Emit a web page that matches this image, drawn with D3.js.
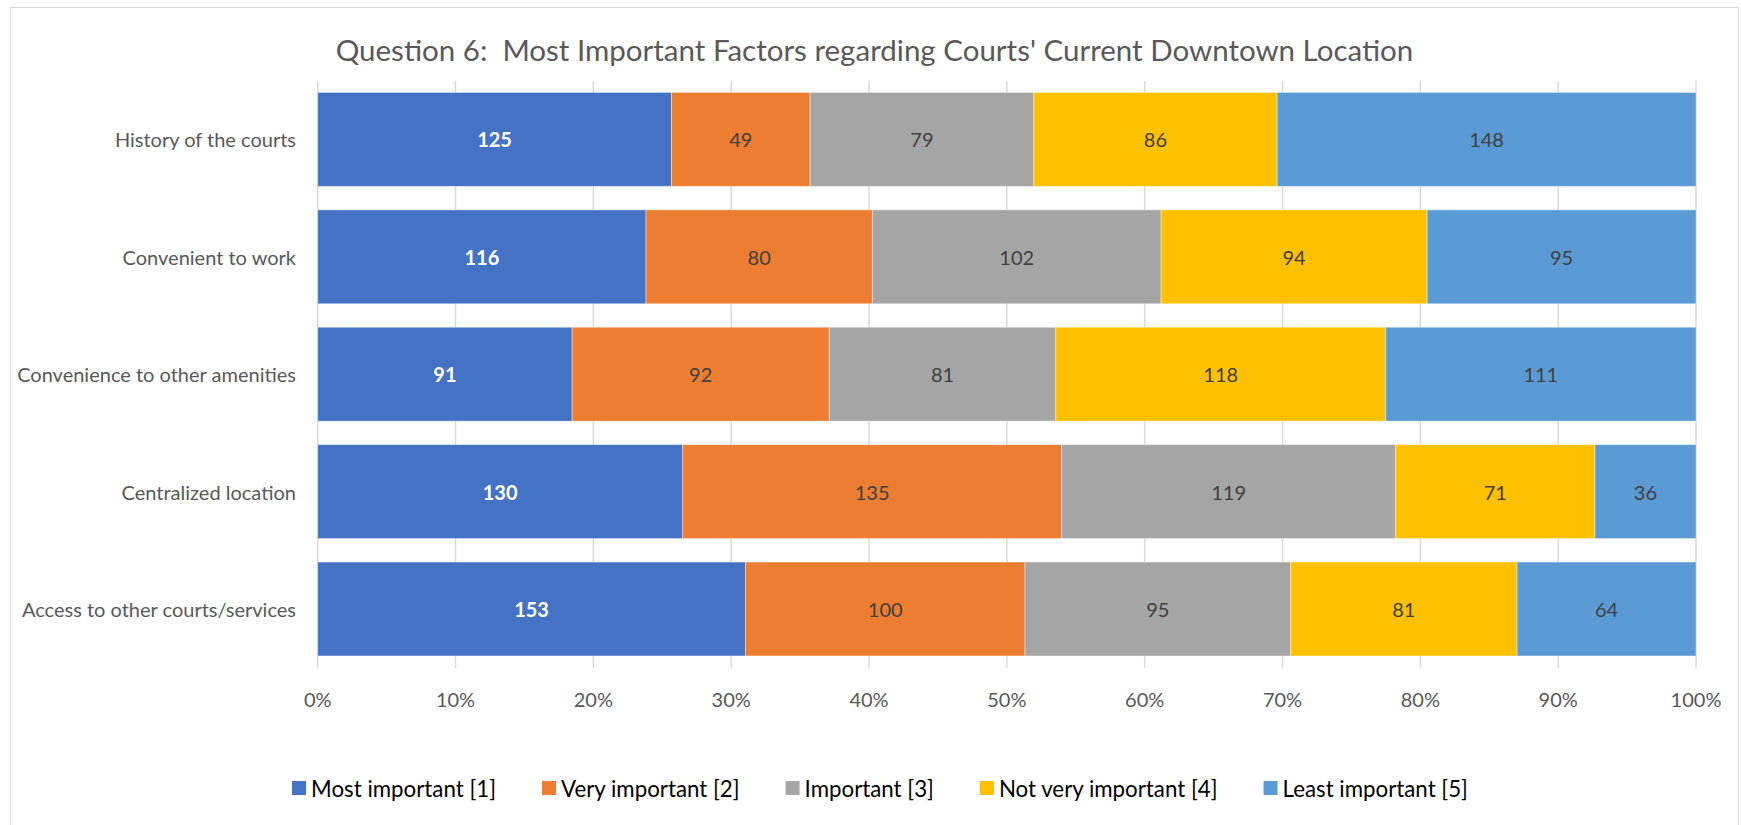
<!DOCTYPE html>
<html>
<head>
<meta charset="utf-8">
<script src="https://cdn.jsdelivr.net/npm/d3@7"></script>
<style>
  body { margin: 0; background: #fff; }
  svg { display: block; font-family: Lato, "Open Sans", sans-serif; }
</style>
</head>
<body>
<svg id="chart" width="1741" height="825"></svg>
<script>
const svg = d3.select('#chart');

const title = "Question 6:  Most Important Factors regarding Courts' Current Downtown Location";
const categories = ['History of the courts', 'Convenient to work', 'Convenience to other amenities', 'Centralized location', 'Access to other courts/services'];
const seriesNames = ['Most important [1]', 'Very important [2]', 'Important [3]', 'Not very important [4]', 'Least important [5]'];
const seriesColors = ['#4472C4', '#ED7D31', '#A5A5A5', '#FFC000', '#5B9BD5'];
const mostImportant = [125, 116, 91, 130, 153];
const veryImportant = [49, 80, 92, 135, 100];
const important = [79, 102, 81, 119, 95];
const notVeryImportant = [86, 94, 118, 71, 81];
const leastImportant = [148, 95, 111, 36, 64];
const xTicks = [0, 0.1, 0.2, 0.3, 0.4, 0.5, 0.6, 0.7, 0.8, 0.9, 1];

const seriesValues = [mostImportant, veryImportant, important, notVeryImportant, leastImportant];

// build rows for the stack (each row normalised to 100%)
const rows = categories.map((c, i) => {
    let row = { category: c };
    let total = d3.sum(seriesValues, s => s[i]);
    seriesNames.forEach((n, j) => { row[n] = seriesValues[j][i] / total; row[n + '_raw'] = seriesValues[j][i]; });
    return row;
});

const stack = d3.stack().keys(seriesNames);
const layers = stack(rows);

const plot = { left: 317.7, right: 1696, top: 80.7, bottom: 667.7 };

const x = d3.scaleLinear().domain([0, 1]).range([plot.left, plot.right]);
const y = d3.scaleBand().domain(categories).range([plot.top, plot.bottom]).paddingInner(0.2).paddingOuter(0.1);
const color = d3.scaleOrdinal().domain(seriesNames).range(seriesColors);

// chart frame
svg.append('rect')
    .attr('x', 10.5).attr('y', 7.5)
    .attr('width', 1728).attr('height', 830)
    .attr('fill', 'none')
    .attr('stroke', '#d9d9d9')
    .attr('stroke-width', 1);

svg.append('text')
    .attr('x', 874.5).attr('y', 49)
    .attr('text-anchor', 'middle')
    .attr('dominant-baseline', 'central')
    .attr('fill', '#595959')
    .attr('font-size', 29.5)
    .style('white-space', 'pre')
    .text(title);

// gridlines
svg.append('g')
    .selectAll('line')
    .data(xTicks)
    .enter()
    .append('line')
    .attr('x1', d => x(d)).attr('x2', d => x(d))
    .attr('y1', plot.top).attr('y2', plot.bottom)
    .attr('stroke', '#d9d9d9')
    .attr('stroke-width', 1.5);

// x tick labels
svg.append('g')
    .selectAll('text')
    .data(xTicks)
    .enter()
    .append('text')
    .attr('x', d => x(d))
    .attr('y', 699)
    .attr('text-anchor', 'middle')
    .attr('dominant-baseline', 'central')
    .attr('fill', '#595959')
    .attr('font-size', 20)
    .text(d3.format('.0%'));

// category labels
svg.append('g')
    .selectAll('text')
    .data(categories)
    .enter()
    .append('text')
    .attr('x', 296)
    .attr('y', d => y(d) + y.bandwidth() / 2)
    .attr('text-anchor', 'end')
    .attr('dominant-baseline', 'central')
    .attr('fill', '#595959')
    .attr('font-size', 20)
    .text(d => d);

// bars
const layer = svg.append('g')
    .selectAll('g')
    .data(layers)
    .enter()
    .append('g')
    .attr('fill', d => color(d.key));

layer.selectAll('rect')
    .data(d => d)
    .enter()
    .append('rect')
    .attr('x', d => x(d[0]))
    .attr('y', d => y(d.data.category))
    .attr('width', d => x(d[1]) - x(d[0]))
    .attr('height', y.bandwidth())
    .attr('stroke', '#ffffff')
    .attr('stroke-opacity', 0.4)
    .attr('stroke-width', 1);

layer.selectAll('text')
    .data(d => d.map(v => Object.assign({ key: d.key }, { v: v })))
    .enter()
    .append('text')
    .attr('x', d => (x(d.v[0]) + x(d.v[1])) / 2)
    .attr('y', d => y(d.v.data.category) + y.bandwidth() / 2)
    .attr('text-anchor', 'middle')
    .attr('dominant-baseline', 'central')
    .attr('font-size', 20)
    .attr('font-weight', d => d.key === seriesNames[0] ? 'bold' : 'normal')
    .attr('fill', d => d.key === seriesNames[0] ? '#ffffff' : '#404040')
    .text(d => d.v.data[d.key + '_raw']);

// legend
const legend = svg.append('g');
const items = legend.selectAll('g')
    .data(seriesNames)
    .enter()
    .append('g');

items.append('rect')
    .attr('width', 14).attr('height', 14)
    .attr('y', -7)
    .attr('fill', d => color(d));

items.append('text')
    .attr('x', 19)
    .attr('dominant-baseline', 'central')
    .attr('fill', '#000000')
    .attr('font-size', 22.3)
    .text(d => d);

let offset = 0;
const gap = 46;
items.each(function() {
    let w = 19 + d3.select(this).select('text').node().getComputedTextLength();
    d3.select(this).attr('transform', `translate(${offset},788)`);
    offset += w + gap;
});
const legendWidth = offset - gap;
legend.attr('transform', `translate(${880 - legendWidth / 2},0)`);
</script>
</body>
</html>
